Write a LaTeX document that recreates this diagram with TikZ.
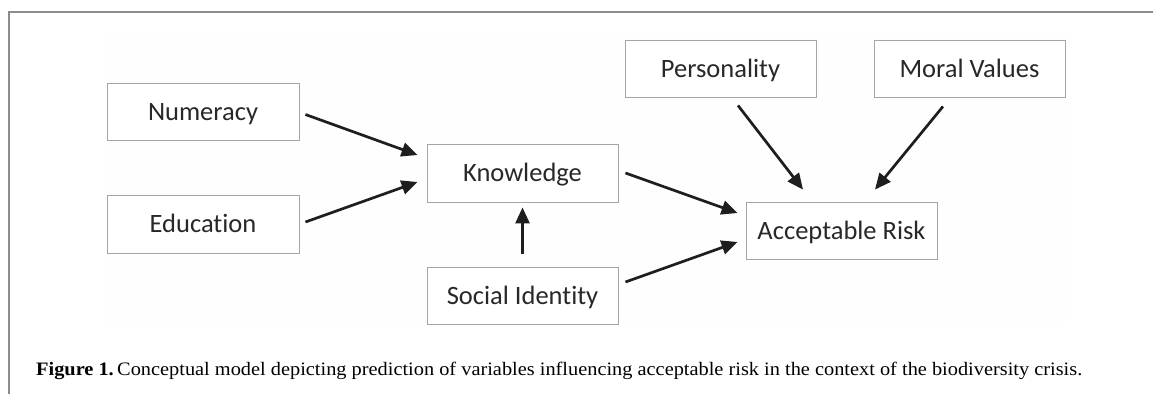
\documentclass[tikz,border=0pt]{standalone}
\usepackage{fontspec}
\setmainfont{Liberation Serif}
\newfontfamily\boxfont[Ligatures=NoCommon]{Carlito}
\usetikzlibrary{arrows.meta}
\definecolor{framegray}{RGB}{140,140,140}
\definecolor{boxgray}{RGB}{165,165,165}
\definecolor{arrowcol}{RGB}{30,30,30}
\definecolor{textcol}{RGB}{40,40,40}
\definecolor{bgpanel}{RGB}{254,254,254}
\tikzset{
  varbox/.style={draw=boxgray, line width=0.9pt, fill=white, rectangle,
    inner sep=0pt, text height=17pt, text depth=0pt,
    font=\boxfont\fontsize{26.5}{30}\selectfont, text=textcol},
  arr/.style={draw=arrowcol, line width=2.7pt,
    -{Triangle[length=16pt,width=14pt]}},
  frameline/.style={draw=framegray, line width=1.3pt}
}
\begin{document}
\begin{tikzpicture}[x=1pt,y=-1pt]
\useasboundingbox (0,0) rectangle (1153,394);
\fill[bgpanel] (107,33) rectangle (1067,325);
\draw[frameline] (9,394) -- (9,12) -- (1153,12);

\node[varbox, minimum width=192pt, minimum height=57pt] (num) at (203,111.5) {Numeracy};
\node[varbox, minimum width=192pt, minimum height=58pt] (edu) at (203,224) {Education};
\node[varbox, minimum width=191pt, minimum height=58pt] (know) at (522.5,173) {Knowledge};
\node[varbox, minimum width=191pt, minimum height=57pt] (soc) at (522.5,295.5) {Social Identity};
\node[varbox, minimum width=191pt, minimum height=57pt] (pers) at (720.5,68.5) {Personality};
\node[varbox, minimum width=191pt, minimum height=57pt] (moral) at (969.5,68.5) {Moral Values};
\node[varbox, minimum width=191pt, minimum height=57pt] (ar) at (841.5,230.5) {Acceptable Risk};

\draw[arr] ([shift={(6pt,-3pt)}]num.east) -- ([shift={(-9pt,18pt)}]know.west);
\draw[arr] ([shift={(6pt,2pt)}]edu.east) -- ([shift={(-9pt,-9pt)}]know.west);
\draw[arr] ([shift={(7pt,0pt)}]know.east) -- ([shift={(-8pt,17.5pt)}]ar.west);
\draw[arr] ([shift={(7pt,13.5pt)}]soc.east) -- ([shift={(-8pt,-11.5pt)}]ar.west);
\draw[arr] ([shift={(0pt,13pt)}]soc.north) -- ([shift={(0pt,-5pt)}]know.south);
\draw[arr] ([shift={(17.5pt,-8pt)}]pers.south) -- ([shift={(-38.5pt,12pt)}]ar.north);
\draw[arr] ([shift={(-26.5pt,-9pt)}]moral.south) -- ([shift={(33.5pt,12pt)}]ar.north);

\node[anchor=base west, inner sep=0pt, text=black] (cap) at (36,375)
  {\resizebox{1046pt}{\height}{\fontsize{19}{22}\selectfont\textbf{Figure 1.}\,Conceptual model depicting prediction of variables influencing acceptable risk in the context of the biodiversity crisis.}};
\end{tikzpicture}
\end{document}
